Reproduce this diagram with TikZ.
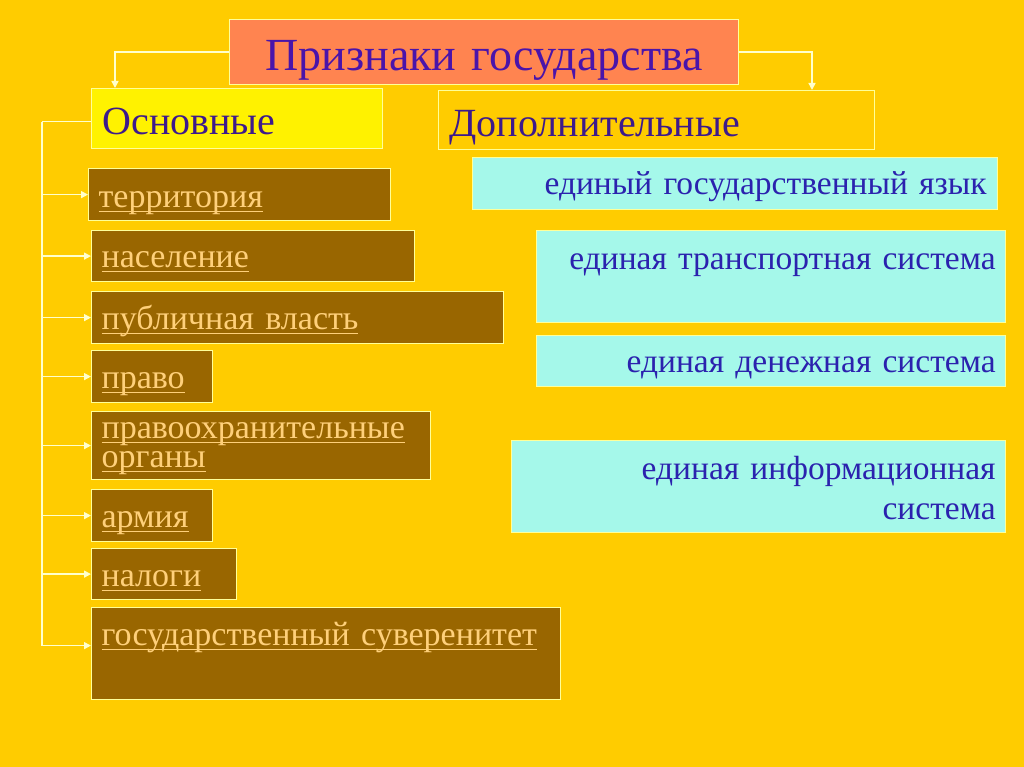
\documentclass[tikz,border=0pt]{standalone}
\usepackage{fontspec}
\setmainfont{Liberation Serif}
\usetikzlibrary{arrows.meta,calc}
\definecolor{bg}{HTML}{FFCC00}
\definecolor{titlefill}{HTML}{FF8450}
\definecolor{titletext}{HTML}{4A14AA}
\definecolor{headtext}{HTML}{3D1A8C}
\definecolor{brown}{HTML}{996600}
\definecolor{peach}{HTML}{FFD07A}
\definecolor{cyanfill}{HTML}{A5F8EA}
\definecolor{cyantext}{HTML}{2B22AE}
\definecolor{edge}{HTML}{FFFF99}
\definecolor{wire}{HTML}{FFFFCC}
\newcommand\ulx[1]{\leavevmode\setbox0\hbox{#1}\rlap{\vrule height -3pt depth 4.5pt width \wd0}\box0}
\tikzset{
  box/.style={draw=edge, line width=1.2pt, anchor=north west, inner ysep=0pt},
  titlebox/.style={box, fill=titlefill, text=titletext, inner xsep=0pt, align=center,
    font=\fontsize{46}{52}\selectfont},
  headbox/.style={box, text=headtext, inner xsep=11pt, align=left,
    font=\fontsize{40}{46}\selectfont},
  itembox/.style={box, fill=brown, text=peach, inner xsep=10pt, align=left,
    font=\fontsize{34}{29}\selectfont},
  extrabox/.style={box, fill=cyanfill, text=cyantext, inner xsep=11pt, align=right,
    font=\fontsize{33.5}{40}\selectfont},
  wireline/.style={draw=wire, line width=1.5pt},
  arr/.style={wireline, -{Triangle[length=7pt,width=7pt]}}
}
\begin{document}
\begin{tikzpicture}[x=1pt,y=-1pt]
\useasboundingbox (0,0) rectangle (1024,767);
\fill[bg] (0,0) rectangle (1024,767);

\node[titlebox, text width=509pt, text height=51pt, text depth=14pt] (title) at (229,19) {Признаки государства};
\node[headbox, fill=yellow, text width=269pt, text height=46pt, text depth=14pt] (osn) at (91,88) {Основные};
\node[headbox, text width=414pt, text height=46pt, text depth=13pt] (dop) at (438,90) {Дополнительные};

\node[itembox, text width=282pt, text height=39pt, text depth=13pt] (i1) at (88,168) {\ulx{территория}};
\node[itembox, text width=303pt, text height=37pt, text depth=14pt] (i2) at (91,230) {\ulx{население}};
\node[itembox, text width=392pt, text height=38pt, text depth=14pt] (i3) at (91,291) {\ulx{публичная власть}};
\node[itembox, text width=101pt, text height=38pt, text depth=14pt] (i4) at (91,350) {\ulx{право}};
\node[itembox, text width=319pt, text height=27pt, text depth=41pt] (i5) at (91,411) {\ulx{правоохранительные}\\\ulx{органы}};
\node[itembox, text width=101pt, text height=38pt, text depth=14pt] (i6) at (91,489) {\ulx{армия}};
\node[itembox, text width=125pt, text height=38pt, text depth=13pt] (i7) at (91,548) {\ulx{налоги}};
\node[itembox, text width=449pt, text height=38pt, text depth=54pt] (i8) at (91,607) {\ulx{государственный суверенитет}};

\node[extrabox, text width=503pt, text height=37pt, text depth=15pt] (e1) at (472,157) {единый государственный язык};
\node[extrabox, inner xsep=10pt, text width=449pt, text height=39pt, text depth=53pt] (e2) at (536,230) {единая транспортная система};
\node[extrabox, inner xsep=10pt, text width=449pt, text height=37pt, text depth=14pt] (e3) at (536,335) {единая денежная система};
\node[extrabox, inner xsep=10pt, text width=474pt, text height=39pt, text depth=53pt] (e4) at (511,440) {единая информационная\\система};

\draw[arr] (title.west) -| ([xshift=24pt]osn.north west);
\draw[arr] (title.east) -| ([xshift=374pt]dop.north west);

\draw[wireline] ([yshift=-3pt]osn.west) -- ++(-49,0) coordinate (spine);
\draw[wireline] (spine) -- ([yshift=8pt]spine |- i8.west);
\foreach \n in {i1,i2,i3,i4,i5,i6,i7} {
  \draw[arr] (spine |- \n.west) -- (\n.west);
}
\draw[arr] ([yshift=8pt]spine |- i8.west) -- ([yshift=8pt]i8.west);
\end{tikzpicture}
\end{document}
